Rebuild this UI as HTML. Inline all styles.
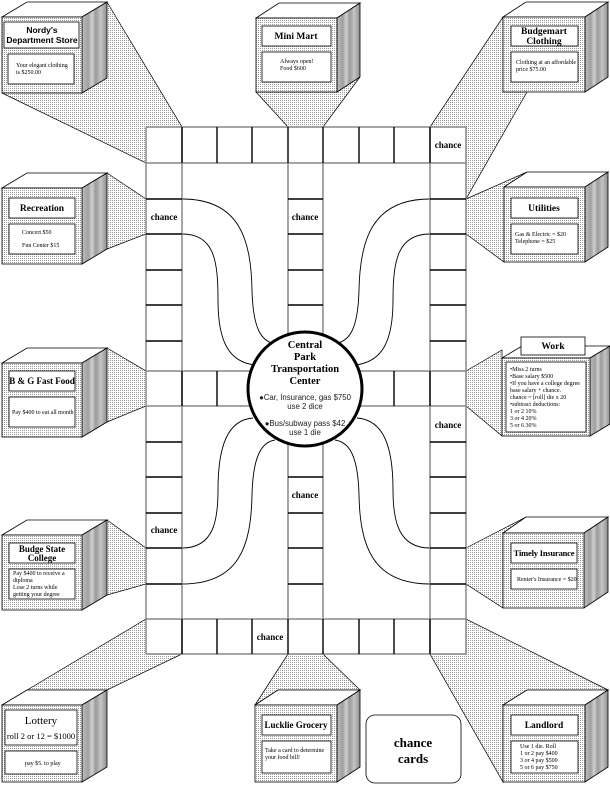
<!DOCTYPE html>
<html><head><meta charset="utf-8"><style>
html,body{margin:0;padding:0;background:#fff;}
svg{display:block;}
.t{font-family:"Liberation Serif",serif;font-weight:bold;font-size:9.5px;text-anchor:middle;}
.s{font-family:"Liberation Serif",serif;font-size:6px;}
.c{font-family:"Liberation Serif",serif;font-weight:bold;font-size:9px;text-anchor:middle;}
</style></head><body>
<svg width="610" height="793" viewBox="0 0 610 793" xmlns="http://www.w3.org/2000/svg">
<defs>
<pattern id="st" width="2" height="2" patternUnits="userSpaceOnUse">
<rect width="2" height="2" fill="#fff"/><rect width="1" height="1" fill="#9a9a9a"/>
</pattern>
<linearGradient id="sd" x1="0" x2="1" y1="0" y2="0">
<stop offset="0" stop-color="#bdbdbd"/><stop offset="0.25" stop-color="#a0a0a0"/><stop offset="0.4" stop-color="#d0d0d0"/><stop offset="0.55" stop-color="#9a9a9a"/><stop offset="0.75" stop-color="#c4c4c4"/><stop offset="1" stop-color="#8e8e8e"/>
</linearGradient>
</defs>

<g fill="url(#st)" stroke="#000" stroke-width="0.7">
<polygon points="107,2 182,127 146,163 2,93"/>
<polygon points="256,92 288,127 323,127 360,77 337,92"/>
<polygon points="503,17 430,127 466,127 466,199 527,92"/>
<polygon points="82,188 107,173 146,199 146,234 107,249 82,264"/>
<polygon points="82,363 107,348 146,371 146,406 107,422 82,437"/>
<polygon points="466,199 527,172 504,187 504,262 466,234"/>
<polygon points="466,371 502,350 502,436 466,406"/>
<polygon points="82,535 107,520 146,548 146,584 107,595 82,610"/>
<polygon points="466,548 526,517 503,533 503,608 466,584"/>
<polygon points="146,619 182,654 107,690 27,690 2,705"/>
<polygon points="288,654 323,654 360,690 278,690 255,705"/>
<polygon points="430,654 466,619 608,690 527,690 503,705 503,782"/>
</g>

<rect x="146" y="127" width="320" height="527" fill="#fff"/>
<g fill="none" stroke="#000" stroke-width="0.9">
<path d="M182,199 C240,199 251,240 252,290 C253,330 262,340 272,343"/>
<path d="M182,234 C214,234 218,260 218,300 C218,340 228,362 255,365"/>
<path d="M430,199 C372,199 360,240 359,290 C358,330 349,340 338,343"/>
<path d="M430,234 C398,234 393,260 393,300 C393,340 383,362 355,365"/>
<path d="M182,548 C214,548 218,520 218,490 C218,445 228,420 253,418"/>
<path d="M182,584 C240,584 251,545 252,495 C253,455 262,442 275,440"/>
<path d="M430,548 C398,548 393,520 393,490 C393,445 383,420 357,418"/>
<path d="M430,584 C372,584 360,545 359,495 C358,455 349,442 335,440"/>
</g>
<g stroke="#888" stroke-width="1.5" fill="none">
<line x1="146" y1="127" x2="466" y2="127"/><line x1="146" y1="163" x2="466" y2="163"/>
<line x1="146" y1="619" x2="466" y2="619"/><line x1="146" y1="654" x2="466" y2="654"/>
<line x1="146" y1="371" x2="466" y2="371"/><line x1="146" y1="406" x2="466" y2="406"/>
<line x1="146" y1="127" x2="146" y2="654"/><line x1="182" y1="127" x2="182" y2="654"/>
<line x1="430" y1="127" x2="430" y2="654"/><line x1="466" y1="127" x2="466" y2="654"/>
<line x1="288" y1="163" x2="288" y2="619"/><line x1="323" y1="163" x2="323" y2="619"/>
</g>
<g stroke="#000" stroke-width="1.4">
<path d="M182,127V163M217,127V163M252,127V163M288,127V163M323,127V163M359,127V163M394,127V163M430,127V163"/>
<path d="M182,619V654M217,619V654M252,619V654M288,619V654M323,619V654M359,619V654M394,619V654M430,619V654"/>
<path d="M217,371V406M252,371V406M359,371V406M394,371V406M182,371V406M430,371V406"/>
<path d="M146,199H182M146,234H182M146,270H182M146,305H182M146,341H182M146,442H182M146,477H182M146,513H182M146,548H182M146,584H182"/>
<path d="M430,199H466M430,234H466M430,270H466M430,305H466M430,341H466M430,442H466M430,477H466M430,513H466M430,548H466M430,584H466"/>
<path d="M288,199H323M288,234H323M288,270H323M288,305H323M288,341H323M288,442H323M288,477H323M288,513H323M288,548H323M288,584H323"/>
</g>
<text class="c" x="448" y="148">chance</text>
<text class="c" x="164" y="220">chance</text>
<text class="c" x="305" y="220">chance</text>
<text class="c" x="448" y="428">chance</text>
<text class="c" x="305" y="498">chance</text>
<text class="c" x="164" y="533">chance</text>
<text class="c" x="270" y="640">chance</text>

<circle cx="305" cy="389" r="57" fill="#fff" stroke="#000" stroke-width="3"/>
<g class="t" style="font-size:10.5px">
<text x="305" y="348">Central</text><text x="305" y="360">Park</text><text x="305" y="372">Transportation</text><text x="305" y="384">Center</text>
</g>
<g font-family="Liberation Sans,sans-serif" font-size="7.8" text-anchor="middle" fill="#222">
<text x="305" y="400">●Car, Insurance, gas $750</text><text x="305" y="409">use 2 dice</text>
<text x="305" y="426">●Bus/subway pass  $42</text><text x="305" y="435">use 1 die</text>
</g>

<g stroke="#000" stroke-width="0.8">
<polygon points="2,17 27,2 107,2 82,17" fill="#fff"/><polygon points="82,17 107,2 107,78 82,93" fill="url(#sd)"/><rect x="2" y="17" width="80" height="76" fill="url(#st)"/>
<rect x="4" y="22" width="75" height="26" fill="#fff"/><rect x="8" y="54" width="66" height="30" fill="#fff"/>
<polygon points="256,18 279,3 360,3 337,18" fill="#fff"/><polygon points="337,18 360,3 360,77 337,92" fill="url(#sd)"/><rect x="256" y="18" width="81" height="74" fill="url(#st)"/>
<rect x="262" y="26" width="69" height="20" fill="#fff"/><rect x="262" y="52" width="69" height="30" fill="#fff"/>
<polygon points="503,17 526,2 608,2 585,17" fill="#fff"/><polygon points="585,17 608,2 608,77 585,92" fill="url(#sd)"/><rect x="503" y="17" width="82" height="75" fill="url(#st)"/>
<rect x="511" y="26" width="67" height="20" fill="#fff"/><rect x="511" y="52" width="67" height="30" fill="#fff"/>
<polygon points="2,188 27,173 107,173 82,188" fill="#fff"/><polygon points="82,188 107,173 107,249 82,264" fill="url(#sd)"/><rect x="2" y="188" width="80" height="76" fill="url(#st)"/>
<rect x="9" y="198" width="66" height="20" fill="#fff"/><rect x="9" y="224" width="66" height="30" fill="#fff"/>
<polygon points="2,363 27,348 107,348 82,363" fill="#fff"/><polygon points="82,363 107,348 107,422 82,437" fill="url(#sd)"/><rect x="2" y="363" width="80" height="74" fill="url(#st)"/>
<rect x="9" y="371" width="66" height="20" fill="#fff"/><rect x="9" y="397" width="66" height="30" fill="#fff"/>
<polygon points="504,187 527,172 608,172 585,187" fill="#fff"/><polygon points="585,187 608,172 608,247 585,262" fill="url(#sd)"/><rect x="504" y="187" width="81" height="75" fill="url(#st)"/>
<rect x="511" y="198" width="67" height="20" fill="#fff"/><rect x="511" y="224" width="67" height="30" fill="#fff"/>
<polygon points="502,358 522,346 610,346 590,358" fill="#fff"/><polygon points="590,358 610,346 610,424 590,436" fill="url(#sd)"/><rect x="502" y="358" width="88" height="78" fill="url(#st)"/>
<rect x="521" y="337" width="64" height="18" fill="#fff"/><rect x="506" y="362" width="80" height="70" fill="#fff"/>
<polygon points="2,535 27,520 107,520 82,535" fill="#fff"/><polygon points="82,535 107,520 107,595 82,610" fill="url(#sd)"/><rect x="2" y="535" width="80" height="75" fill="url(#st)"/>
<rect x="9" y="543" width="66" height="20" fill="#fff"/><rect x="9" y="569" width="66" height="30" fill="#fff"/>
<polygon points="503,533 526,517 608,517 584,533" fill="#fff"/><polygon points="584,533 608,517 608,592 584,608" fill="url(#sd)"/><rect x="503" y="533" width="81" height="75" fill="url(#st)"/>
<rect x="511" y="543" width="66" height="20" fill="#fff"/><rect x="511" y="569" width="66" height="20" fill="#fff"/>
<polygon points="2,705 27,690 107,690 82,705" fill="#fff"/><polygon points="82,705 107,690 107,767 82,782" fill="url(#sd)"/><rect x="2" y="705" width="80" height="77" fill="url(#st)"/>
<rect x="5" y="710" width="72" height="35" fill="#fff"/><rect x="5" y="751" width="72" height="23" fill="#fff"/>
<polygon points="255,705 278,690 360,690 337,705" fill="#fff"/><polygon points="337,705 360,690 360,767 337,782" fill="url(#sd)"/><rect x="255" y="705" width="82" height="77" fill="url(#st)"/>
<rect x="262" y="715" width="69" height="20" fill="#fff"/><rect x="262" y="741" width="69" height="32" fill="#fff"/>
<polygon points="503,705 527,690 608,690 585,705" fill="#fff"/><polygon points="585,705 608,690 608,767 585,782" fill="url(#sd)"/><rect x="503" y="705" width="82" height="77" fill="url(#st)"/>
<rect x="511" y="715" width="67" height="20" fill="#fff"/><rect x="511" y="741" width="67" height="32" fill="#fff"/>
<rect x="366" y="715" width="95" height="68" rx="9" fill="#fff"/>
</g>

<g font-family="Liberation Sans,sans-serif" font-weight="bold" font-size="8.5" text-anchor="middle">
<text x="42" y="33">Nordy's</text><text x="42" y="43">Department Store</text>
</g>
<g class="t">
<text x="296" y="39">Mini Mart</text>
<text x="544" y="34">Budgemart</text><text x="544" y="44">Clothing</text>
<text x="42" y="211">Recreation</text>
<text x="42" y="384" style="font-size:9px">B &amp; G Fast Food</text>
<text x="544" y="211">Utilities</text>
<text x="553" y="349">Work</text>
<text x="42" y="552" style="font-size:9px">Budge State</text><text x="42" y="561" style="font-size:9px">College</text>
<text x="544" y="556" style="font-size:8.5px;letter-spacing:-0.2px">Timely Insurance</text>
<text x="296" y="728" style="font-size:9px">Lucklie Grocery</text>
<text x="544" y="728">Landlord</text>
</g>
<g font-family="Liberation Serif,serif" text-anchor="middle">
<text x="41" y="724" font-size="11">Lottery</text>
<text x="41" y="739" font-size="8.5">roll 2 or 12 = $1000</text>
<text x="413" y="747" font-size="13" font-weight="bold">chance</text>
<text x="413" y="763" font-size="13" font-weight="bold">cards</text>
</g>
<g class="s">
<text x="16" y="67">Your elegant clothing</text><text x="16" y="74">is $250.00</text>
<text x="280" y="63">Always open!</text><text x="280" y="70">Food $600</text>
<text x="516" y="64">Clothing at an affordable</text><text x="516" y="71">price  $75.00</text>
<text x="22" y="234">Concert $50</text><text x="22" y="247">Fun Center $15</text>
<text x="12" y="414">Pay $400 to eat all month</text>
<text x="515" y="236">Gas &amp; Electric = $20</text><text x="515" y="243">Telephone = $25</text>
<text x="510" y="371">•Miss 2 turns</text><text x="510" y="378">•Base salary $500</text><text x="510" y="385">•If you have a college degree</text><text x="510" y="392"> base salary + chance.</text><text x="510" y="399">chance =  [roll] die x 20</text><text x="510" y="406">•subtract deductions:</text><text x="510" y="413"> 1 or 2 10%</text><text x="510" y="420"> 3 or 4 20%</text><text x="510" y="427"> 5 or 6 30%</text>
<text x="13" y="575">Pay $400 to receive a</text><text x="13" y="582">diploma</text><text x="13" y="589">Lose 2 turns while</text><text x="13" y="596">getting your degree</text>
<text x="517" y="581">Renter's Insurance = $20</text>
<text x="25" y="765">pay $5. to play</text>
<text x="265" y="752">Take a card to determine</text><text x="265" y="759">your food bill!</text>
<text x="520" y="748">Use 1 die. Roll</text><text x="520" y="755"> 1 or 2 pay  $400</text><text x="520" y="762"> 3 or 4 pay  $500</text><text x="520" y="769"> 5 or 6 pay  $750</text>
</g>
</svg>
</body></html>
